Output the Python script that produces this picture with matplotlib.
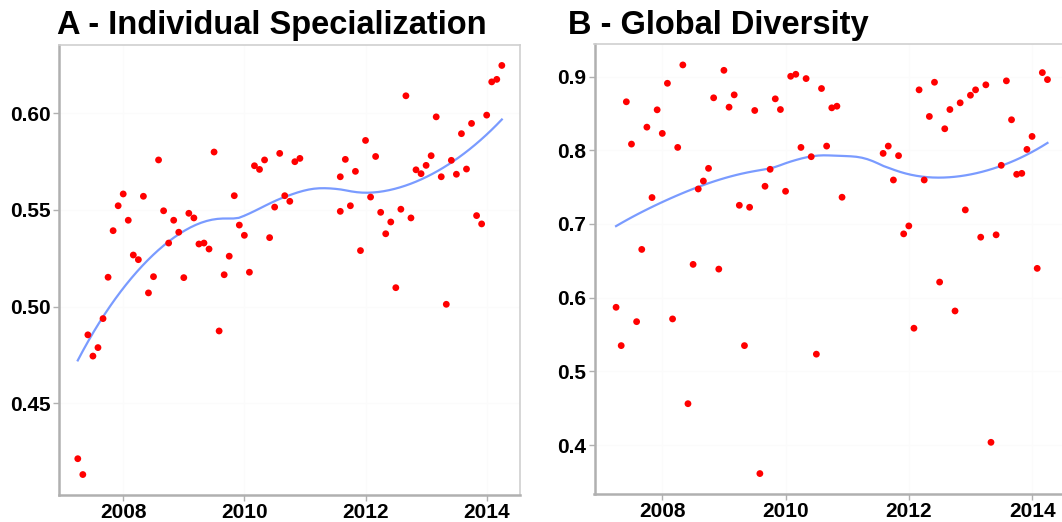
import matplotlib
matplotlib.use("Agg")
import matplotlib.pyplot as plt
import numpy as np

plt.rcParams['font.family'] = ['Liberation Sans', 'DejaVu Sans']

# monthly observations (Apr 2007 - Dec 2010, Aug 2011 - Apr 2014)
months_b = [
    '2007-04', '2007-05', '2007-06', '2007-07', '2007-08', '2007-09', '2007-10', '2007-11', '2007-12',
    '2008-01', '2008-02', '2008-03', '2008-04', '2008-05', '2008-06', '2008-07', '2008-08', '2008-09',
    '2008-10', '2008-11', '2008-12', '2009-01', '2009-02', '2009-03', '2009-04', '2009-05', '2009-06',
    '2009-07', '2009-08', '2009-09', '2009-10', '2009-11', '2009-12', '2010-01', '2010-02', '2010-03',
    '2010-04', '2010-05', '2010-06', '2010-07', '2010-08', '2010-09', '2010-10', '2010-11', '2010-12',
    '2011-08', '2011-09', '2011-10', '2011-11', '2011-12', '2012-01', '2012-02', '2012-03', '2012-04',
    '2012-05', '2012-06', '2012-07', '2012-08', '2012-09', '2012-10', '2012-11', '2012-12', '2013-01',
    '2013-02', '2013-03', '2013-04', '2013-05', '2013-06', '2013-07', '2013-08', '2013-09', '2013-10',
    '2013-11', '2013-12', '2014-01', '2014-02', '2014-03', '2014-04',
]
# panel A has two values in Aug 2011
months_a = months_b[:45] + ['2011-08'] + months_b[45:]

spec_a = [
    0.4213, 0.4131, 0.4854, 0.4744, 0.4788, 0.4938, 0.5152, 0.5393, 0.5522, 0.5583,
    0.5447, 0.5267, 0.5243, 0.5571, 0.5071, 0.5155, 0.5759, 0.5496, 0.5329, 0.5447,
    0.5385, 0.5150, 0.5483, 0.5459, 0.5324, 0.5329, 0.5298, 0.5800, 0.4874, 0.5165,
    0.5261, 0.5574, 0.5422, 0.5369, 0.5178, 0.5729, 0.5710, 0.5759, 0.5357, 0.5515,
    0.5793, 0.5574, 0.5545, 0.5750, 0.5767,
    0.5672, 0.5493, 0.5762, 0.5522, 0.5700, 0.5290, 0.5860, 0.5567, 0.5777, 0.5488,
    0.5377, 0.5438, 0.5098, 0.5504, 0.6091, 0.5459, 0.5708, 0.5688, 0.5731, 0.5781,
    0.5982, 0.5672, 0.5012, 0.5757, 0.5685, 0.5895, 0.5712, 0.5948, 0.5471, 0.5428,
    0.5991, 0.6163, 0.6176, 0.6248,
]

div_b = [
    0.5870, 0.5350, 0.8658, 0.8084, 0.5675, 0.6655, 0.8314, 0.7359, 0.8549, 0.8229,
    0.8909, 0.5712, 0.8039, 0.9158, 0.4562, 0.6452, 0.7475, 0.7583, 0.7755, 0.8712,
    0.6388, 0.9085, 0.8585, 0.8752, 0.7254, 0.5350, 0.7227, 0.8540, 0.3614, 0.7512,
    0.7742, 0.8698, 0.8553, 0.7444, 0.9004, 0.9031, 0.8039, 0.8973, 0.7913, 0.5234,
    0.8838, 0.8057, 0.8576, 0.8598, 0.7363,
    0.7958, 0.8057, 0.7597, 0.7927, 0.6866, 0.6974, 0.5586, 0.8820, 0.7597, 0.8459,
    0.8923, 0.6212, 0.8292, 0.8553, 0.5820, 0.8644, 0.7191, 0.8747, 0.8820, 0.6821,
    0.8888, 0.4038, 0.6853, 0.7796, 0.8942, 0.8414, 0.7674, 0.7687, 0.8012, 0.8188,
    0.6398, 0.9054, 0.8959,
]


def to_year(months):
    return np.array([int(m[:4]) + (int(m[5:]) - 1) / 12 for m in months])


def loess(x, y, xg, span=0.75):
    # local quadratic fit with tricube weights (ggplot geom_smooth default)
    n = len(x)
    q = int(np.floor(n * span))
    out = []
    for x0 in xg:
        d = np.abs(x - x0)
        h = np.sort(d)[q - 1]
        w = np.clip(1 - (d / h) ** 3, 0, None) ** 3
        X = np.column_stack([np.ones(n), x - x0, (x - x0) ** 2])
        W = np.sqrt(w)
        beta = np.linalg.lstsq(X * W[:, None], y * W, rcond=None)[0]
        out.append(beta[0])
    return np.array(out)


def panel(ax, months, vals, xlim, yticks, fmt):
    x = to_year(months)
    y = np.array(vals)
    xg = np.linspace(x.min(), x.max(), 80)
    ax.plot(xg, loess(x, y, xg), color='#3366FF', lw=1.6, alpha=0.65, zorder=2)
    ax.scatter(x, y, s=24, color='red', edgecolors='none', zorder=3)
    pad = (y.max() - y.min()) * 0.05
    ax.set_ylim(y.min() - pad, y.max() + pad)
    ax.set_xlim(*xlim)
    ax.set_xticks([2008, 2010, 2012, 2014])
    ax.set_xticklabels(['2008', '2010', '2012', '2014'])
    ax.set_yticks(yticks)
    ax.set_yticklabels([fmt % v for v in yticks])
    ax.grid(True, color='#fbfbfb', lw=0.8, zorder=0)
    for side in ['top', 'right']:
        ax.spines[side].set_color('#cfcfcf')
        ax.spines[side].set_linewidth(1.2)
    for side in ['left', 'bottom']:
        ax.spines[side].set_color('#b0b0b0')
        ax.spines[side].set_linewidth(1.8)
    ax.tick_params(length=4, width=1, color='#b0b0b0', pad=2, labelsize=15)
    for lab in ax.get_xticklabels() + ax.get_yticklabels():
        lab.set_fontweight('bold')


fig = plt.figure(figsize=(10.62, 5.22), dpi=100)
W, H = 1062, 522
ax_a = fig.add_axes([59 / W, (H - 495) / H, 461 / W, 450 / H])
ax_b = fig.add_axes([594.5 / W, (H - 494) / H, 469 / W, 449.5 / H])

panel(ax_a, months_a, spec_a, (2006.94, 2014.55), [0.45, 0.50, 0.55, 0.60], '%.2f')
panel(ax_b, months_b, div_b, (2006.90, 2014.51), [0.4, 0.5, 0.6, 0.7, 0.8, 0.9], '%.1f')

fig.text(57 / W, (H - 34) / H, 'A - Individual Specialization', fontsize=23.5, fontweight='bold', va='baseline')
fig.text(568 / W, (H - 34) / H, 'B - Global Diversity', fontsize=23.5, fontweight='bold', va='baseline')

fig.savefig('out.png', dpi=100)
